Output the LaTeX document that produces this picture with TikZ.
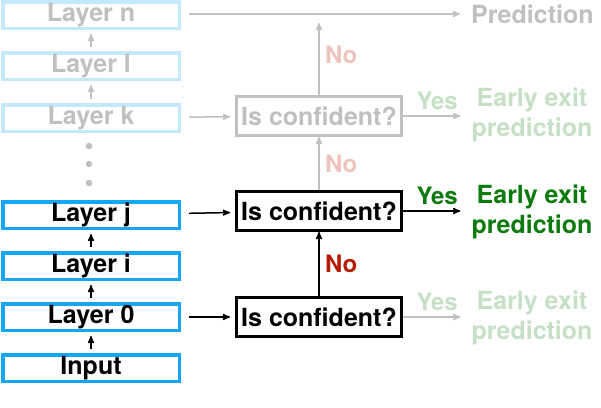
\documentclass[tikz,border=0pt]{standalone}
\usepackage{fontspec}
\setmainfont{TeX Gyre Heros}
\usetikzlibrary{arrows,positioning}
\definecolor{layerblue}{HTML}{14A5F5}
\definecolor{fadeblue}{HTML}{C4E8FC}
\definecolor{fadegray}{HTML}{C0C0C0}
\definecolor{nored}{HTML}{B51B00}
\definecolor{fadered}{HTML}{EDC3BB}
\definecolor{yesgreen}{HTML}{0C7A0C}
\definecolor{fadegreen}{HTML}{C6E0C6}
\tikzset{
    %Define standard arrow tip
    >=stealth',
    %Define style for layer boxes
    layer/.style={
           rectangle,
           draw=layerblue, line width=3.5pt,
           minimum width=176.5pt,
           minimum height=26.5pt,
           inner sep=0pt,
           font=\bfseries\fontsize{25}{30}\selectfont,
           text centered},
    fadedlayer/.style={
           layer,
           draw=fadeblue,
           text=fadegray},
    %Define style for decision boxes
    confbox/.style={
           rectangle,
           draw=black, line width=3pt,
           minimum width=165pt,
           minimum height=39pt,
           inner sep=0pt,
           font=\bfseries\fontsize{25}{30}\selectfont,
           text centered},
    fadedconf/.style={
           confbox,
           draw=fadegray,
           text=fadegray},
    outtext/.style={
           inner sep=0pt,
           align=center,
           font=\bfseries\fontsize{25}{30}\selectfont},
    label/.style={
           font=\bfseries\fontsize{24}{29}\selectfont},
    % Define arrow style
    pil/.style={
           ->,
           line width=1.5pt},
    dot/.style={
           circle,
           fill=fadegray,
           inner sep=0pt,
           minimum size=6.5pt}
}
\begin{document}
\begin{tikzpicture}[x=1pt,y=-1pt]
\useasboundingbox (0,0) rectangle (601,407);
 %layers
\node[layer](input) at (91,368){Input};
\node[layer](l0) at (91,317){Layer 0};
\node[layer](li) at (91,266){Layer i};
\node[layer](lj) at (91,215){Layer j};
\node[dot](d1) at (89,183){};
\node[dot](d2) at (89,164){};
\node[dot](d3) at (89,146){};
\node[fadedlayer](lk) at (91,118){Layer k};
\node[fadedlayer](ll) at (91,66){Layer l};
\node[fadedlayer](ln) at (91,15){Layer n};
 %decisions
\node[confbox](c0) at (319,317){Is confident?};
\node[confbox](cj) at (319,211){Is confident?};
\node[fadedconf](ck) at (319,116){Is confident?};
 %outputs
\node[outtext, text=fadegreen](e0) at (532,318){Early exit\\prediction};
\node[outtext, text=yesgreen](ej) at (532,212){Early exit\\prediction};
\node[outtext, text=fadegreen](ek) at (532,115){Early exit\\prediction};
\node[outtext, text=fadegray, anchor=west](pred) at (471,14){Prediction};
\coordinate (top) at (319,14);
 %edges
\path[pil, shorten <=4pt, shorten >=4pt]
    (input) edge (l0)
    (l0) edge (li)
    (li) edge (lj);
\path[pil, fadegray, shorten <=4pt, shorten >=4pt]
    (lk) edge (ll)
    (ll) edge (ln);
\path[pil, shorten <=8pt, shorten >=5pt]
    (l0) edge (c0)
    (lj) edge (cj);
\draw[pil, fadegray, shorten <=8pt, shorten >=5pt] (lk) -- (ck);
\draw[pil, fadegray, shorten <=8pt, shorten >=11pt] (ln.east |- pred) -- (pred);
\draw[pil] (c0) -- node[label, right=2pt, text=nored]{No} (cj);
\draw[pil, fadegray] (cj) -- node[label, right=2pt, text=fadered]{No} (ck);
\draw[pil, fadegray, shorten >=9pt] (ck) -- node[label, right=2pt, text=fadered]{No} (top);
\draw[pil, fadegray, shorten >=11pt] (c0.east) -- node[label, above=2pt, text=fadegreen]{Yes} (c0.east -| e0.west);
\draw[pil, shorten >=11pt] (cj.east) -- node[label, above=2pt, text=yesgreen]{Yes} (cj.east -| ej.west);
\draw[pil, fadegray, shorten >=11pt] (ck.east) -- node[label, above=2pt, text=fadegreen]{Yes} (ck.east -| ek.west);
\end{tikzpicture}
\end{document}
